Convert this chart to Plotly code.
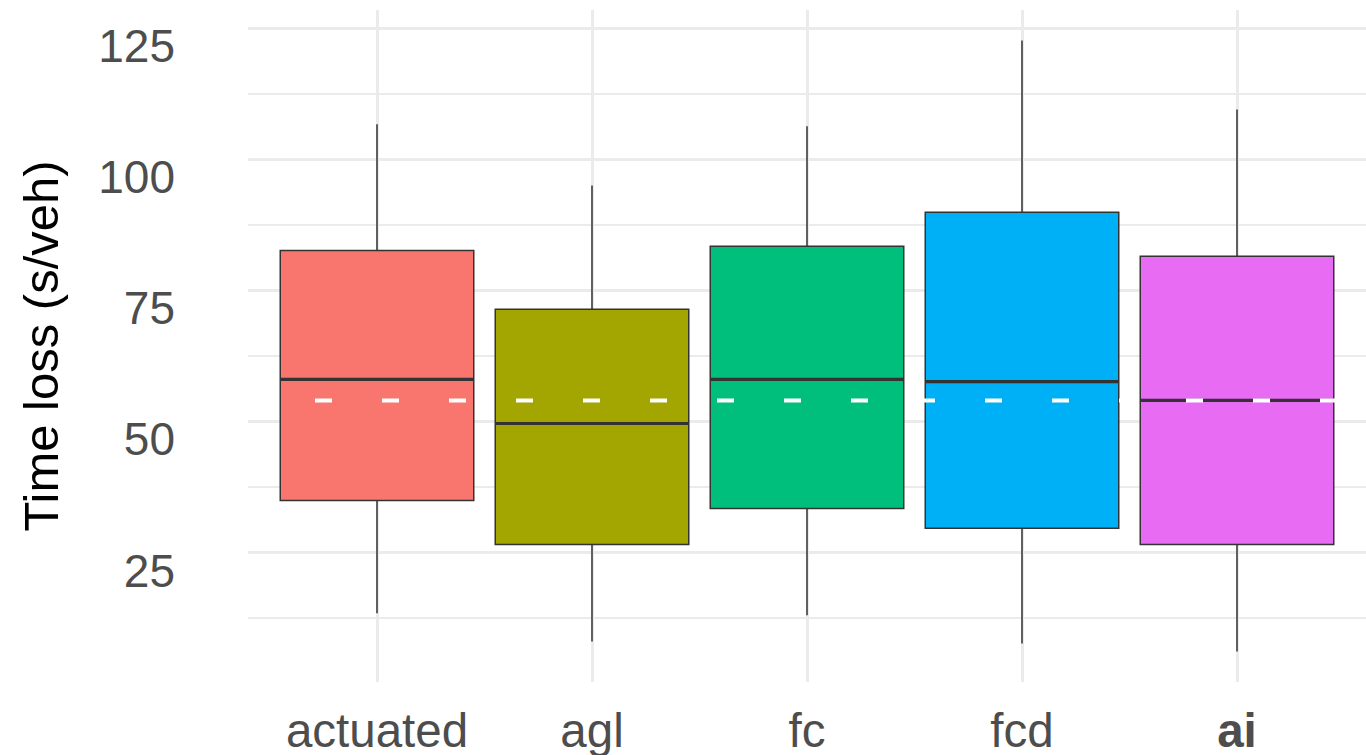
import plotly.graph_objects as go

# ---- data ----
categories = ["actuated", "agl", "fc", "fcd", "ai"]
tick_labels = ["actuated", "agl", "fc", "fcd", "<b>ai</b>"]
lower_whisker = [13.4, 8.0, 13.0, 7.6, 6.1]
q1_values = [34.9, 26.5, 33.4, 29.6, 26.5]
median_values = [58.0, 49.6, 58.0, 57.6, 54.0]
q3_values = [82.6, 71.4, 83.4, 89.9, 81.5]
upper_whisker = [106.7, 95.0, 106.3, 122.7, 109.5]
reference_line = 54.0
colors = ["#F8766D", "#A3A500", "#00BF7D", "#00B0F6", "#E76BF3"]

BOX_W = 0.9
positions = list(range(1, len(categories) + 1))

fig = go.Figure()
for i, cat in enumerate(categories):
    fig.add_trace(go.Box(
        x=[positions[i]],
        q1=[q1_values[i]], median=[median_values[i]], q3=[q3_values[i]],
        lowerfence=[lower_whisker[i]], upperfence=[upper_whisker[i]],
        width=BOX_W, whiskerwidth=0,
        fillcolor=colors[i],
        line=dict(color="#333333", width=1.5),
        name=cat, showlegend=False, hoverinfo="skip",
    ))

# thicker median lines (ggplot fatten)
for i in range(len(categories)):
    fig.add_shape(type="line", xref="x", yref="y",
                  x0=positions[i] - BOX_W / 2, x1=positions[i] + BOX_W / 2,
                  y0=median_values[i], y1=median_values[i],
                  line=dict(color="#333333", width=3.2), layer="above")

# white dashed reference line across the plot
fig.add_shape(type="line", xref="paper", yref="y", x0=0, x1=1,
              y0=reference_line, y1=reference_line,
              line=dict(color="white", width=4, dash="17px,50px"), layer="above")

font_family = "Liberation Sans, Arial, sans-serif"
fig.update_layout(
    width=1366, height=755,
    margin=dict(l=248, r=0, t=10, b=73, autoexpand=False),
    paper_bgcolor="white", plot_bgcolor="white",
    boxmode="overlay",
    font=dict(family=font_family, color="#4D4D4D", size=46),
    xaxis=dict(
        range=[0.4, 5.6], tickmode="array", tickvals=positions, ticktext=tick_labels,
        showgrid=True, gridcolor="#EBEBEB", gridwidth=3, zeroline=False,
        showline=False, ticks="", tickfont=dict(size=47.5, color="#4D4D4D"),
        ticklabelstandoff=16, automargin=False,
    ),
    yaxis=dict(
        range=[0.27, 128.5], tickmode="linear", tick0=0, dtick=25,
        showgrid=True, gridcolor="#EBEBEB", gridwidth=3, zeroline=False,
        showline=False, ticks="", tickfont=dict(size=46, color="#4D4D4D"),
        minor=dict(dtick=12.5, tick0=0, showgrid=True, gridcolor="#EBEBEB", gridwidth=1.5),
        ticklabelstandoff=72, ticklabelshift=18, automargin=False,
        title=dict(text="Time loss (s/veh)", font=dict(size=49, color="black"), standoff=24),
    ),
)

fig.write_html("out.html", config={"displayModeBar": False},
               post_script="document.body.style.margin='0';document.body.style.overflow='hidden';")
